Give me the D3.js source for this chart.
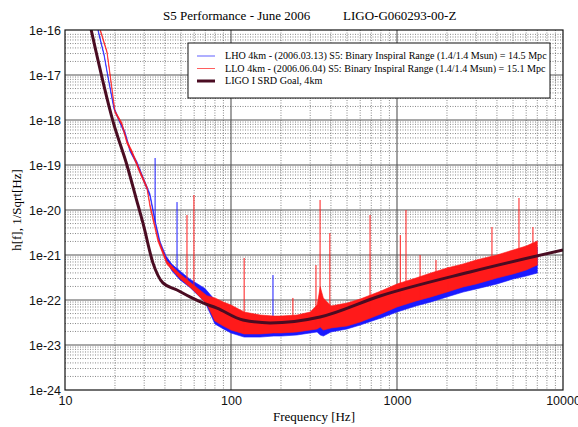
<!DOCTYPE html>
<meta charset="utf-8">
<style>
body { margin: 0; background: #fff; }
svg { font-family: "Liberation Serif", "DejaVu Serif", serif; }
.grid .minor { stroke: #555; stroke-width: .7px; stroke-dasharray: 1,1.5; }
.grid .major { stroke: #555; stroke-width: 1.1px; }
.axis text { font-size: 12.5px; fill: #111; }
</style>
<svg width="578" height="427"></svg>
<script src="https://d3js.org/d3.v7.min.js"></script>
<script>

// LHO 4km, 2006.03.13 (blue): lower / upper edge of the noisy trace
var lhoFreq = [15.8, 17.2, 18.2, 19.7, 21.4, 23.0, 24.6, 27.1, 29.5, 32.5, 35.3, 37.4, 40.6, 44.1, 49.3, 56.6, 69.7,
  80, 90, 100, 120, 150, 180, 200, 250, 300, 330, 345, 360, 400, 500, 600, 800, 1000, 1300, 1600, 2000, 2500, 3000, 4000, 5000, 6000, 7000];
var lhoHi = [1.05e-16, 2.9e-17, 9.0e-18, 1.95e-18, 9.5e-19, 5.5e-19, 2.3e-19, 1.2e-19, 5.5e-20, 2.3e-20, 5.0e-21, 2.0e-21, 9.5e-22, 6.2e-22, 4.4e-22, 2.9e-22, 1.8e-22,
  1.0e-22, 8.15e-23, 6.64e-23, 4.89e-23, 4.19e-23, 3.98e-23, 3.98e-23, 4.19e-23, 4.89e-23, 6.31e-23, 1.0e-22, 8.58e-23, 5.99e-23, 6.99e-23, 9.03e-23, 1.36e-22, 1.85e-22, 2.51e-22, 3.24e-22, 4.19e-22, 5.14e-22, 6.31e-22, 8.15e-22, 1.05e-21, 1.29e-21, 1.50e-21];
var lhoLo = [9.5e-17, 2.65e-17, 8.2e-18, 1.75e-18, 8.5e-19, 4.7e-19, 2.0e-19, 1.02e-19, 4.7e-20, 2.0e-20, 4.2e-21, 1.65e-21, 7.6e-22, 4.4e-22, 2.8e-22, 1.9e-22, 9.0e-23,
  2.93e-23, 2.27e-23, 1.85e-23, 1.50e-23, 1.50e-23, 1.58e-23, 1.58e-23, 1.67e-23, 1.85e-23, 1.95e-23, 1.67e-23, 1.58e-23, 1.95e-23, 2.27e-23, 2.78e-23, 3.98e-23, 5.41e-23, 7.36e-23, 9.03e-23, 1.17e-22, 1.50e-22, 1.76e-22, 2.27e-22, 2.93e-22, 3.41e-22, 3.98e-22];
var lhoLineFreq = [34.9, 47.3, 179];
var lhoLineTop = [1.43e-19, 1.50e-20, 3.59e-22];

// LLO 4km, 2006.06.04 (red)
var lloFreq = [16.3, 17.9, 18.7, 20.0, 22.0, 23.6, 25.3, 28.3, 31.2, 32.5, 36.3, 41.1, 49.3, 59.0, 71.6,
  80, 90, 100, 120, 150, 180, 200, 250, 300, 330, 345, 360, 400, 500, 600, 800, 1000, 1300, 1600, 2000, 2500, 3000, 4000, 5000, 6000, 7000];
var lloHi = [1.05e-16, 3.4e-17, 1.05e-17, 1.6e-18, 8.8e-19, 3.5e-19, 2.1e-19, 7.5e-20, 3.3e-20, 1.35e-20, 2.4e-21, 7.4e-22, 3.8e-22, 2.2e-22, 1.25e-22,
  1.11e-22, 9.03e-23, 7.74e-23, 5.41e-23, 4.64e-23, 4.41e-23, 4.41e-23, 4.64e-23, 5.41e-23, 7.74e-23, 1.95e-22, 1.11e-22, 7.36e-23, 8.58e-23, 1.05e-22, 1.58e-22, 2.27e-22, 3.08e-22, 3.98e-22, 5.14e-22, 6.31e-22, 7.74e-22, 1.0e-21, 1.29e-21, 1.58e-21, 2.05e-21];
var lloLo = [9.5e-17, 3.1e-17, 9.5e-18, 1.45e-18, 7.6e-19, 3.0e-19, 1.8e-19, 6.5e-20, 2.9e-20, 1.15e-20, 2.0e-21, 6.2e-22, 3.0e-22, 1.7e-22, 8.0e-23,
  3.41e-23, 2.64e-23, 2.15e-23, 1.76e-23, 1.76e-23, 1.85e-23, 1.85e-23, 1.95e-23, 2.15e-23, 2.27e-23, 2.51e-23, 2.15e-23, 2.39e-23, 2.64e-23, 3.24e-23, 4.89e-23, 6.99e-23, 9.5e-23, 1.17e-22, 1.50e-22, 1.95e-22, 2.27e-22, 3.08e-22, 3.78e-22, 4.64e-22, 5.99e-22];
var lloLineFreq = [54.3, 59.8, 120, 236, 325, 344, 394, 688, 1047, 1133, 1377, 1718, 2028, 3733, 5430, 6590];
var lloLineTop = [7.74e-21, 2.15e-20, 8.58e-22, 1.11e-22, 5.99e-22, 1.67e-20, 3.08e-21, 7.74e-21, 2.78e-21, 1.0e-20, 1.0e-21, 7.74e-22, 5.41e-22, 4.19e-21, 1.85e-20, 4.19e-21];

// LIGO I SRD goal, 4km
var srdFreq = [14.3, 19.5, 23.6, 27.5, 29.5, 33.9, 38.9, 47.3, 56.6, 67.8, 82.3, 118, 172, 344, 791, 2754, 10000];
var srdVal = [1.1e-16, 9.1e-19, 1.0e-19, 1.3e-20, 5.1e-21, 6.6e-22, 2.4e-22, 1.67e-22, 1.17e-22, 8.6e-23, 6.6e-23, 3.6e-23, 3.1e-23, 4.2e-23, 1.23e-22, 4.2e-22, 1.3e-21];

var xTicks = [10, 100, 1000, 10000];
var yTicks = [1e-24, 1e-23, 1e-22, 1e-21, 1e-20, 1e-19, 1e-18, 1e-17, 1e-16];

var legendLabels = [
  "LHO 4km - (2006.03.13) S5: Binary Inspiral Range (1.4/1.4 Msun) = 14.5 Mpc",
  "LLO 4km - (2006.06.04) S5: Binary Inspiral Range (1.4/1.4 Msun) = 15.1 Mpc",
  "LIGO I SRD Goal, 4km"
];

var svg = d3.select("svg"),
    margin = {top: 30, right: 15, bottom: 37, left: 65},
    width = +svg.attr("width") - margin.left - margin.right,
    height = +svg.attr("height") - margin.top - margin.bottom;

var x = d3.scaleLog().domain([10, 10000]).range([0, width]);
var y = d3.scaleLog().domain([1e-24, 1e-16]).range([height, 0]);

var g = svg.append("g").attr("transform", "translate(" + margin.left + "," + margin.top + ")");

function isDecade(v) {
  var l = Math.log10(v);
  return Math.abs(l - Math.round(l)) < 1e-6;
}

// grid
var grid = g.append("g").attr("class", "grid");
grid.selectAll("line.vx")
  .data(x.ticks().filter(function(d) { return d > 10 && d < 10000; }))
  .enter().append("line")
    .attr("class", function(d) { return isDecade(d) ? "major" : "minor"; })
    .attr("x1", function(d) { return x(d); })
    .attr("x2", function(d) { return x(d); })
    .attr("y1", 0).attr("y2", height);
grid.selectAll("line.hy")
  .data(y.ticks().filter(function(d) { return d > 1.5e-24 && d < 0.9e-16; }))
  .enter().append("line")
    .attr("class", function(d) { return isDecade(d) ? "major" : "minor"; })
    .attr("y1", function(d) { return y(d); })
    .attr("y2", function(d) { return y(d); })
    .attr("x1", 0).attr("x2", width);

g.append("clipPath").attr("id", "clip")
  .append("rect").attr("width", width).attr("height", height);

var plot = g.append("g").attr("clip-path", "url(#clip)");

function zip(f, lo, hi) {
  return f.map(function(d, i) { return {f: d, lo: lo[i], hi: hi[i]}; });
}

// value of the lower edge at frequency f (log-log)
function edgeAt(freqs, vals, f) {
  var i = d3.bisectLeft(freqs, f);
  if (i <= 0) return vals[0];
  if (i >= freqs.length) return vals[vals.length - 1];
  var t = (Math.log(f) - Math.log(freqs[i - 1])) / (Math.log(freqs[i]) - Math.log(freqs[i - 1]));
  return Math.exp(Math.log(vals[i - 1]) + t * (Math.log(vals[i]) - Math.log(vals[i - 1])));
}

var band = d3.area()
    .x(function(d) { return x(d.f); })
    .y0(function(d) { return y(d.lo); })
    .y1(function(d) { return y(d.hi); });

function drawSeries(freqs, lo, hi, lineF, lineTop, color) {
  plot.append("path")
      .datum(zip(freqs, lo, hi))
      .attr("d", band)
      .attr("fill", color)
      .attr("stroke", color)
      .attr("stroke-width", 0.6);
  plot.selectAll(null)
      .data(lineF.map(function(d, i) { return {f: d, top: lineTop[i]}; }))
      .enter().append("line")
        .attr("x1", function(d) { return x(d.f); })
        .attr("x2", function(d) { return x(d.f); })
        .attr("y1", function(d) { return y(d.top); })
        .attr("y2", function(d) { return y(edgeAt(freqs, lo, d.f)); })
        .attr("stroke", color)
        .attr("stroke-width", 1);
}

drawSeries(lhoFreq, lhoLo, lhoHi, lhoLineFreq, lhoLineTop, "#1a1aff");
drawSeries(lloFreq, lloLo, lloHi, lloLineFreq, lloLineTop, "#ff1a1a");

var line = d3.line()
    .curve(d3.curveMonotoneX)
    .x(function(d, i) { return x(srdFreq[i]); })
    .y(function(d) { return y(d); });

plot.append("path")
    .datum(srdVal)
    .attr("d", line)
    .attr("fill", "none")
    .attr("stroke", "#4a0c22")
    .attr("stroke-width", 3);

// frame
g.append("rect")
    .attr("width", width).attr("height", height)
    .attr("fill", "none").attr("stroke", "#111").attr("stroke-width", 1.2);

// axes
g.append("g")
    .attr("class", "axis")
    .attr("transform", "translate(0," + height + ")")
    .call(d3.axisBottom(x).tickValues(xTicks).tickFormat(d3.format("d")).tickSize(0).tickPadding(6))
    .call(function(s) { s.select(".domain").remove(); });

g.append("g")
    .attr("class", "axis")
    .call(d3.axisLeft(y).tickValues(yTicks)
      .tickFormat(function(d) { return "1e" + Math.round(Math.log10(d)); })
      .tickSize(0).tickPadding(4))
    .call(function(s) { s.select(".domain").remove(); });

// titles
svg.append("text")
    .attr("x", 163).attr("y", 20)
    .style("font-size", "13px")
    .text("S5 Performance - June 2006");
svg.append("text")
    .attr("x", 343).attr("y", 20)
    .style("font-size", "13px")
    .text("LIGO-G060293-00-Z");

svg.append("text")
    .attr("x", margin.left + width / 2).attr("y", 421)
    .attr("text-anchor", "middle")
    .style("font-size", "13px")
    .text("Frequency [Hz]");

svg.append("text")
    .attr("transform", "translate(21," + (margin.top + height / 2) + ") rotate(-90)")
    .attr("text-anchor", "middle")
    .style("font-size", "13px")
    .text("h[f], 1/Sqrt[Hz]");

// legend
var legend = svg.append("g").attr("transform", "translate(188,43)");
legend.append("rect")
    .attr("width", 362).attr("height", 55)
    .attr("fill", "#fff").attr("stroke", "#111").attr("stroke-width", 1);

var legendColors = ["#1a1aff", "#ff1a1a", "#4a0c22"];
var legendWidths = [0.7, 0.7, 3];

var item = legend.selectAll("g.item")
  .data(legendLabels)
  .enter().append("g")
    .attr("transform", function(d, i) { return "translate(0," + (13 + i * 12.5) + ")"; });

item.append("line")
    .attr("x1", 9).attr("x2", 27)
    .attr("stroke", function(d, i) { return legendColors[i]; })
    .attr("stroke-width", function(d, i) { return legendWidths[i]; });

item.append("text")
    .attr("x", 37).attr("dy", "0.33em")
    .style("font-size", "10.1px")
    .text(function(d) { return d; });

</script>
